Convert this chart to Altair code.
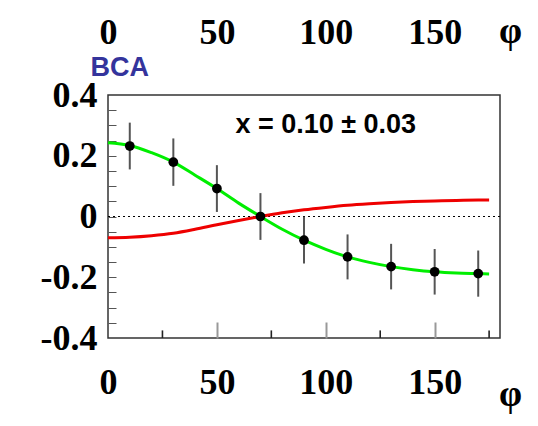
import altair as alt
import pandas as pd

# ---- data ----
phi_pts = [10, 30, 50, 70, 90, 110, 130, 150, 170]
y_pts = [0.232, 0.179, 0.092, 0.0, -0.078, -0.133, -0.165, -0.182, -0.188]
err_pts = [0.077, 0.078, 0.077, 0.077, 0.077, 0.074, 0.075, 0.075, 0.076]

curve_phi = [0, 10, 20, 30, 40, 50, 60, 70, 80, 90, 100, 110, 120, 130, 140, 150, 160, 170, 175]
green_y = [0.243, 0.234, 0.210, 0.179, 0.136, 0.092, 0.044, 0.0, -0.042, -0.078,
           -0.108, -0.133, -0.151, -0.165, -0.175, -0.182, -0.186, -0.188, -0.189]
red_y = [-0.070, -0.068, -0.063, -0.055, -0.042, -0.027, -0.013, 0.0, 0.012, 0.022,
         0.030, 0.037, 0.042, 0.046, 0.049, 0.051, 0.053, 0.054, 0.054]

x_labels = [0, 50, 100, 150]
x_major = [50, 100, 150]
x_minor = [25, 75, 125, 175]
y_labels = [-0.4, -0.2, 0, 0.2, 0.4]
y_minor = [-0.35, -0.3, -0.25, -0.2, -0.15, -0.1, -0.05, 0, 0.05, 0.1, 0.15, 0.2, 0.25, 0.3, 0.35]

annotation = "x = 0.10 ± 0.03"
ann_phi = [100]
ann_y = [0.30]

Y_MIN, Y_MAX = -0.4, 0.4
MINOR_LEN = 0.025   # short x tick length, in y units

# ---- tables ----
df_pts = pd.DataFrame({
    "phi": phi_pts,
    "y": y_pts,
    "lo": [v - e for v, e in zip(y_pts, err_pts)],
    "hi": [v + e for v, e in zip(y_pts, err_pts)],
})
df_curve = pd.DataFrame({"phi": curve_phi, "green": green_y, "red": red_y})
df_zero = pd.DataFrame({"phi": [0.0], "y": [0.0]})
df_ann = pd.DataFrame({"phi": ann_phi, "y": ann_y, "t": [annotation]})
df_minor = pd.DataFrame({"phi": x_minor, "y0": [Y_MIN] * len(x_minor),
                         "y1": [Y_MIN + MINOR_LEN] * len(x_minor)})

xs = alt.Scale(domain=[0, 180], nice=False, zero=False)
ys = alt.Scale(domain=[Y_MIN, Y_MAX], nice=False, zero=False)

SERIF = "Liberation Serif"
lab = dict(labelFont=SERIF, labelFontSize=36, labelFontWeight="bold", labelColor="black",
           labelOverlap=False, labelFlush=False, grid=False, domain=False,
           ticks=False, tickSize=0)

zero = alt.Chart(df_zero).mark_rule(color="black", strokeDash=[2, 3], strokeWidth=1).encode(
    y=alt.Y("y:Q", scale=ys, axis=None)
)

minor_ticks = alt.Chart(df_minor).mark_rule(color="#222", strokeWidth=1.6).encode(
    x=alt.X("phi:Q", scale=xs, axis=None),
    y=alt.Y("y0:Q", scale=ys, axis=None),
    y2="y1:Q",
)

red = alt.Chart(df_curve).mark_line(color="#ee0000", strokeWidth=3, interpolate="monotone").encode(
    x=alt.X("phi:Q", scale=xs, axis=alt.Axis(
        orient="bottom", values=x_labels, labelBaseline="alphabetic", labelPadding=55,
        title="φ", titleFont=SERIF, titleFontSize=37, titleFontWeight="bold",
        titleColor="black", titleX=402, titleY=67, titleAlign="center",
        titleBaseline="alphabetic", titleAngle=0, **lab)),
    y=alt.Y("red:Q", scale=ys, axis=alt.Axis(
        orient="left", values=y_labels, labelPadding=11, labelBaseline="middle",
        labelExpr="datum.value == 0 ? '0' : (datum.value < 0 ? '-' : '') + format(abs(datum.value), '.1f')",
        title="BCA", titleFont="Liberation Sans", titleFontSize=27, titleFontWeight="bold",
        titleColor="#34349c", titleAngle=0, titleX=-18, titleY=-20, titleAlign="left",
        titleBaseline="alphabetic", **lab)),
)

green = alt.Chart(df_curve).mark_line(color="#00ee00", strokeWidth=3, interpolate="monotone").encode(
    x=alt.X("phi:Q", scale=xs, axis=alt.Axis(
        orient="top", values=x_labels, labelBaseline="alphabetic", labelPadding=52,
        title="φ", titleFont=SERIF, titleFontSize=37, titleFontWeight="bold",
        titleColor="black", titleX=402, titleY=-53, titleAlign="center",
        titleBaseline="alphabetic", titleAngle=0, **lab)),
    y=alt.Y("green:Q", scale=ys, axis=alt.Axis(
        orient="left", values=y_minor, offset=-8, tickSize=8, labels=False, domain=False,
        grid=False, tickColor="#555", tickWidth=1, title=None)),
)

bars = alt.Chart(df_pts).mark_rule(color="#555", strokeWidth=2).encode(
    x=alt.X("phi:Q", scale=xs, axis=None),
    y=alt.Y("lo:Q", scale=ys, axis=None),
    y2="hi:Q",
)

points = alt.Chart(df_pts).mark_circle(size=95, color="black", opacity=1).encode(
    x=alt.X("phi:Q", scale=xs, axis=alt.Axis(
        orient="bottom", values=x_major, offset=-16, tickSize=16, labels=False, domain=False,
        grid=False, title=None, tickColor="#999", tickWidth=2)),
    y=alt.Y("y:Q", scale=ys, axis=None),
)

text = alt.Chart(df_ann).mark_text(font="Liberation Sans", fontSize=27, fontWeight="bold",
                                   baseline="middle", align="center", color="black").encode(
    x=alt.X("phi:Q", scale=xs, axis=None),
    y=alt.Y("y:Q", scale=ys, axis=None),
    text="t:N",
)

chart = alt.layer(zero, minor_ticks, red, green, bars, points, text).resolve_axis(
    x="independent", y="independent"
).properties(
    width=392, height=243,
    padding={"left": 108, "top": 95, "right": 38, "bottom": 88},
    autosize="none",
    background="white",
).configure_view(stroke="#333", strokeWidth=1.5)

chart.save("out.html", embed_options={"renderer": "svg", "actions": False})
